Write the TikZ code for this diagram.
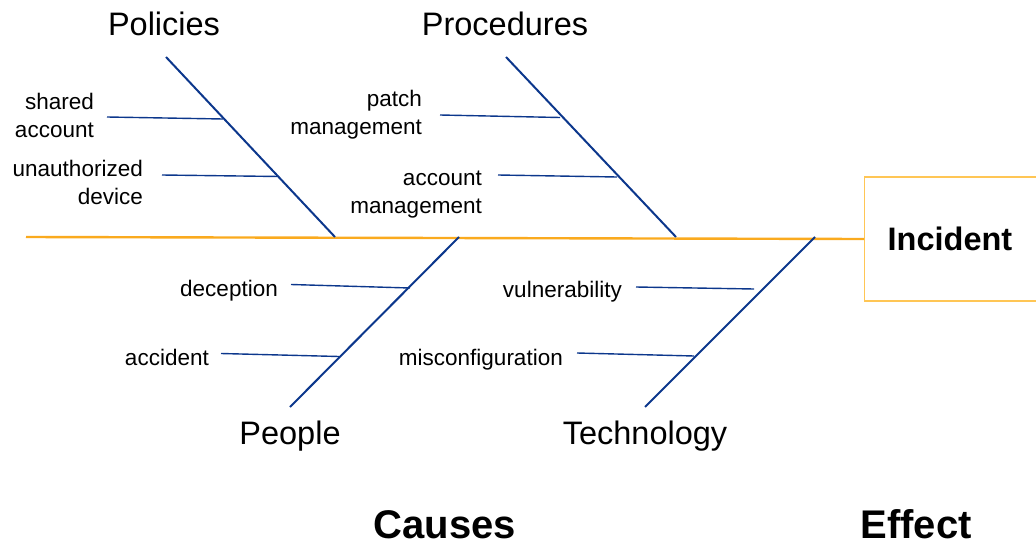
\documentclass[tikz,border=0pt]{standalone}
\usepackage{fontspec}
\setmainfont{Liberation Sans}
\definecolor{spineorange}{RGB}{250,170,30}
\definecolor{boxorange}{RGB}{255,198,85}
\definecolor{bonenavy}{RGB}{12,55,140}
\begin{document}
\begin{tikzpicture}[x=1pt,y=-1pt,
  spine/.style={draw=spineorange, line width=2.4pt},
  bone/.style={draw=bonenavy, line width=2pt},
  rib/.style={draw=bonenavy, line width=1.4pt},
  category/.style={font=\fontsize{32.5}{39}\selectfont, anchor=base, inner sep=0pt},
  cause/.style={font=\fontsize{22.5}{27.5}\selectfont, align=right, inner sep=0pt},
  heading/.style={font=\fontsize{40}{48}\selectfont\bfseries, anchor=base, inner sep=0pt},
]
\useasboundingbox (0,0) rectangle (1036,546);

% effect box (open to the right) and spine
\node[draw=boxorange, line width=1.4pt, anchor=west, minimum height=124pt,
      text width=160pt, align=left, inner xsep=23pt,
      font=\fontsize{32.5}{39}\selectfont\bfseries] (incident) at (864,239) {Incident};
\coordinate (tail) at (26,237);
\draw[spine] (tail) -- (incident.west);

% category titles
\node[category] (policies) at (164,35) {Policies};
\node[category] (procedures) at (505,35) {Procedures};
\node[category] (people) at (290,444) {People};
\node[category] (technology) at (645,444) {Technology};

% bones
\coordinate (polTop) at (166,57);   \coordinate (polFoot) at (335,237);
\coordinate (proTop) at (506,57);   \coordinate (proFoot) at (676,237);
\coordinate (peoFoot) at (290,407); \coordinate (peoTop) at (459,237);
\coordinate (tecFoot) at (645,407); \coordinate (tecTop) at (815,237);
\draw[bone] (polTop) -- (polFoot);
\draw[bone] (proTop) -- (proFoot);
\draw[bone] (peoFoot) -- (peoTop);
\draw[bone] (tecFoot) -- (tecTop);

% cause labels
\node[cause, anchor=east] (shared) at (94,115.5) {shared\\account};
\node[cause, anchor=east] (unauth) at (143,182.5) {unauthorized\\device};
\node[cause, anchor=east] (patch) at (422,114.5) {patch\\management};
\node[cause, anchor=east] (acct) at (482,194.5) {account\\management};
\node[cause, anchor=base east] (deception) at (278,296) {deception};
\node[cause, anchor=base east] (accident) at (209,365) {accident};
\node[cause, anchor=base east] (vuln) at (622,297) {vulnerability};
\node[cause, anchor=base east] (misconf) at (563,365) {misconfiguration};

% ribs
\coordinate (r1a) at (107,117); \coordinate (r1b) at (223,119);
\coordinate (r2a) at (162,175); \coordinate (r2b) at (279,176.5);
\coordinate (r3a) at (440,115); \coordinate (r3b) at (560,117.5);
\coordinate (r4a) at (498,175); \coordinate (r4b) at (617,177);
\coordinate (r5a) at (291,284.5); \coordinate (r5b) at (410,288);
\coordinate (r6a) at (221,353.5); \coordinate (r6b) at (339,356.5);
\coordinate (r7a) at (636,287); \coordinate (r7b) at (754,289);
\coordinate (r8a) at (577,353); \coordinate (r8b) at (694,356);
\foreach \r in {1,...,8} \draw[rib] (r\r a) -- (r\r b);

% headings
\node[heading] (causes) at (445,538) {Causes};
\node[heading] (effect) at (916,538) {Effect};
\end{tikzpicture}
\end{document}
